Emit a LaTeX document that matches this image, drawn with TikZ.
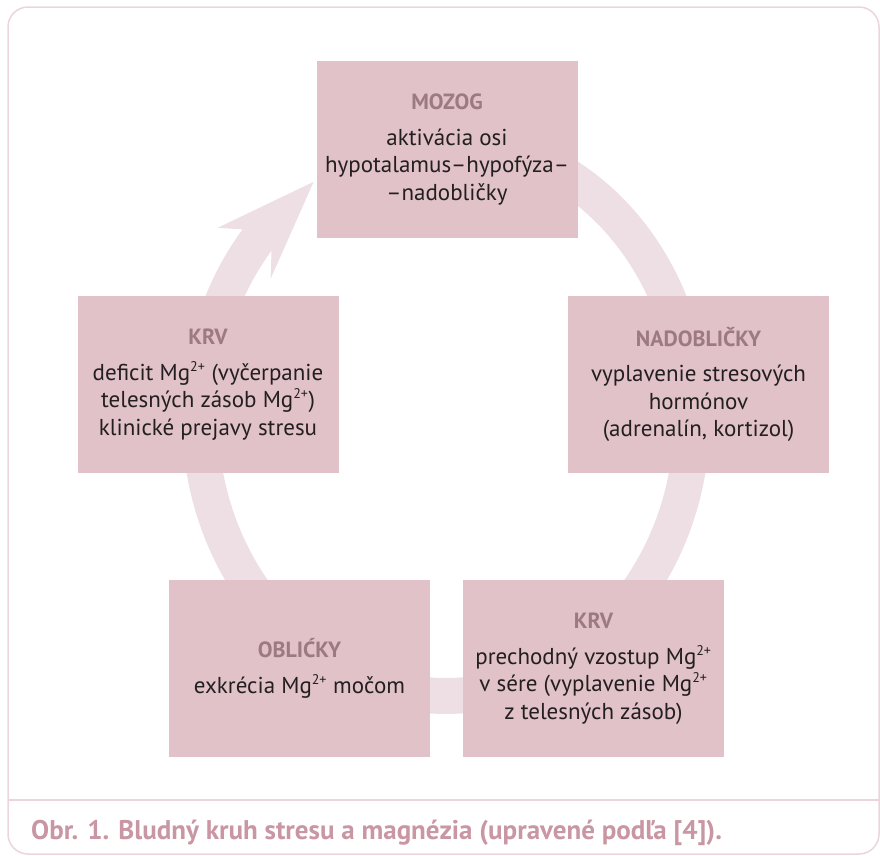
\documentclass[tikz,border=0pt]{standalone}
\usepackage{fontspec}
\setmainfont{PT Sans}
\usepackage{xcolor}
\usepackage{tikz}
\definecolor{boxpink}{RGB}{224,194,200}
\definecolor{ringpink}{RGB}{237,223,227}
\definecolor{titlemauve}{RGB}{157,122,130}
\definecolor{bodygray}{RGB}{35,31,32}
\definecolor{framepink}{RGB}{235,213,219}
\definecolor{captpink}{RGB}{201,150,163}
\newcommand{\stagetitle}[1]{{\fontsize{22}{24}\selectfont\bfseries\color{titlemauve}#1}}
\newcommand{\mgion}{Mg\textsuperscript{\fontsize{14}{14}\selectfont 2+}}

\begin{document}
\begin{tikzpicture}[x=1pt, y=-1pt,
    stage/.style={fill=boxpink, minimum width=261pt, minimum height=177pt, inner sep=0pt,
        align=center, text=bodygray, font=\fontsize{23}{27.5}\selectfont},
    capt/.style={text=captpink, font=\fontsize{27}{30}\selectfont\bfseries, inner sep=0pt}]
        \useasboundingbox (0,0) rectangle (880,855);
        \draw[framepink, line width=1.5pt, rounded corners=20pt] (8,7) rectangle (879,854);
        \draw[framepink, line width=1.5pt] (8,800) -- (879,800);
        \draw[ringpink, line width=36pt] plot[domain = -220:80, samples = 150] ({446 + 246*cos(\x)}, {418 - 278*sin(\x)});
        \fill[ringpink] (313.6,181.8) -- (217.6,227.8) -- (242.5,229.4) -- (271.5,250.8) -- (270.6,278.8) -- cycle;
        \node[stage] (mozog) at (447,149.5) {\stagetitle{MOZOG}\\[8pt]aktivácia osi\\hypotalamus–hypofýza–\\–nadobličky};
        \node[stage] (nadoblicky) at (698.5,384.5) {\stagetitle{NADOBLIČKY}\\[8pt]vyplavenie stresových\\hormónov\\(adrenalín, kortizol)};
        \node[stage] (krvserum) at (593.5,668.5) {\stagetitle{KRV}\\[8pt]prechodný vzostup \mgion\\v sére (vyplavenie \mgion\\z telesných zásob)};
        \node[stage] (oblicky) at (299.5,668.5) {\stagetitle{OBLIĆKY}\\[8pt]exkrécia \mgion{} močom};
        \node[stage] (krvdeficit) at (208,384.5) {\stagetitle{KRV}\\[8pt]deficit \mgion{} (vyčerpanie\\telesných zásob \mgion)\\klinické prejavy stresu};
        \node[capt, anchor=base west] (caption) at (31,839) {Obr. 1. Bludný kruh stresu a magnézia (upravené podľa [4]).};
    \end{tikzpicture}
\end{document}
